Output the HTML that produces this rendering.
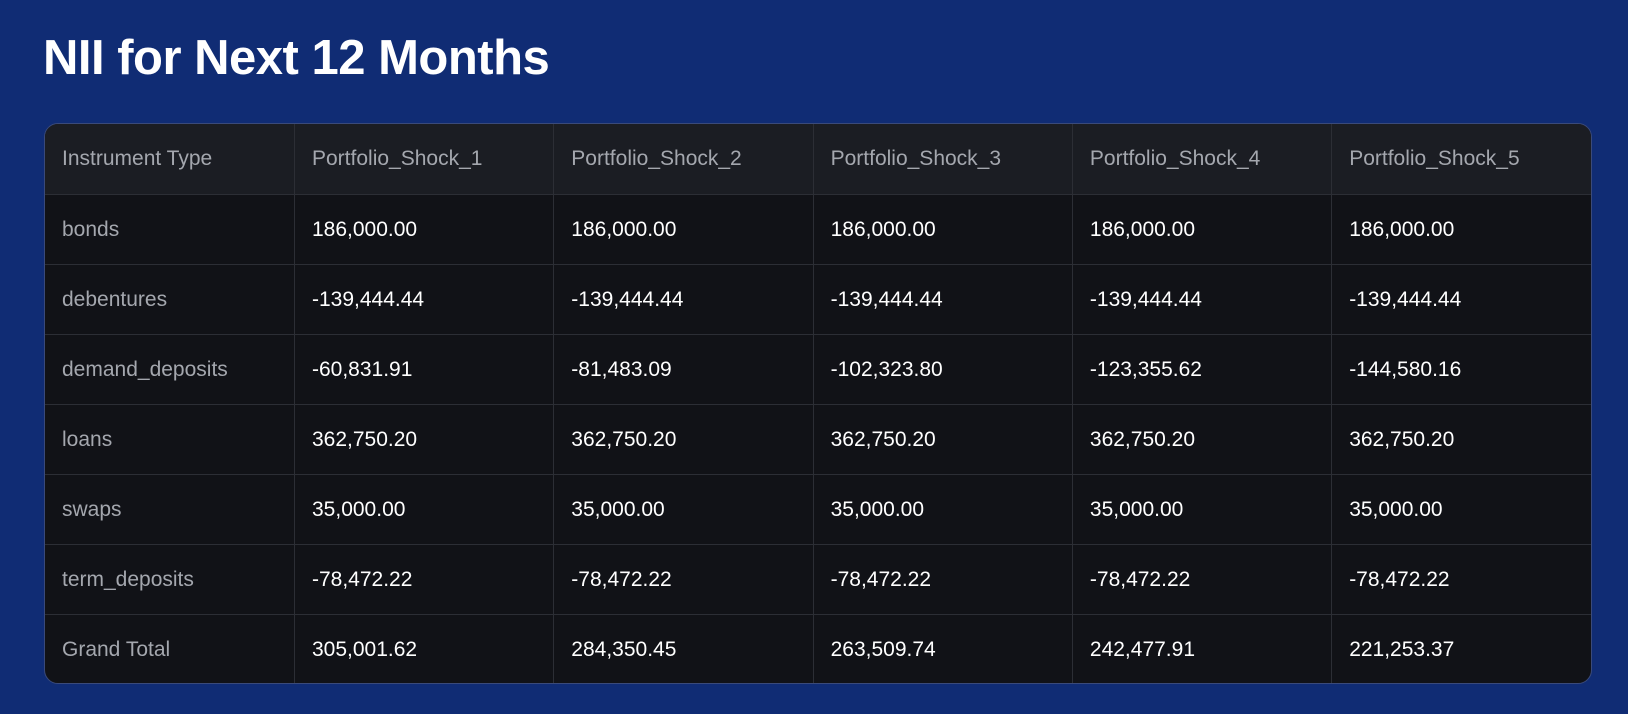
<!DOCTYPE html>
<html><head><style>
html,body{margin:0;padding:0;width:1628px;height:714px;background:#102c74;overflow:hidden;font-family:"Liberation Sans",sans-serif}
h1{position:absolute;left:43px;top:30px;margin:0;color:#fff;font-size:49px;font-weight:bold;letter-spacing:-0.5px}
.tbl{position:absolute;left:44px;top:123px;width:1546px;height:559px;border:1px solid #3a4a7a;border-radius:14px;overflow:hidden;background:#111217}
table{border-collapse:collapse;width:100%;height:100%;table-layout:fixed}
td,th{border:1px solid #2c2e35;padding:0 0 0 17px;text-align:left;font-size:21px;font-weight:normal;color:#fff}
th{background:#1b1d23;color:#a4a7ae;height:70px}
td{height:69px}
td:first-child{color:#a4a7ae}
tr:first-child th{border-top:none}
tr:last-child td{border-bottom:none}
th:first-child,td:first-child{border-left:none;width:232px}
th:last-child,td:last-child{border-right:none}
</style></head><body>
<h1>NII for Next 12 Months</h1>
<div class="tbl"><table>
<tr><th>Instrument Type</th><th>Portfolio_Shock_1</th><th>Portfolio_Shock_2</th><th>Portfolio_Shock_3</th><th>Portfolio_Shock_4</th><th>Portfolio_Shock_5</th></tr>
<tr><td>bonds</td><td>186,000.00</td><td>186,000.00</td><td>186,000.00</td><td>186,000.00</td><td>186,000.00</td></tr>
<tr><td>debentures</td><td>-139,444.44</td><td>-139,444.44</td><td>-139,444.44</td><td>-139,444.44</td><td>-139,444.44</td></tr>
<tr><td>demand_deposits</td><td>-60,831.91</td><td>-81,483.09</td><td>-102,323.80</td><td>-123,355.62</td><td>-144,580.16</td></tr>
<tr><td>loans</td><td>362,750.20</td><td>362,750.20</td><td>362,750.20</td><td>362,750.20</td><td>362,750.20</td></tr>
<tr><td>swaps</td><td>35,000.00</td><td>35,000.00</td><td>35,000.00</td><td>35,000.00</td><td>35,000.00</td></tr>
<tr><td>term_deposits</td><td>-78,472.22</td><td>-78,472.22</td><td>-78,472.22</td><td>-78,472.22</td><td>-78,472.22</td></tr>
<tr><td>Grand Total</td><td>305,001.62</td><td>284,350.45</td><td>263,509.74</td><td>242,477.91</td><td>221,253.37</td></tr>
</table></div>
</body></html>
